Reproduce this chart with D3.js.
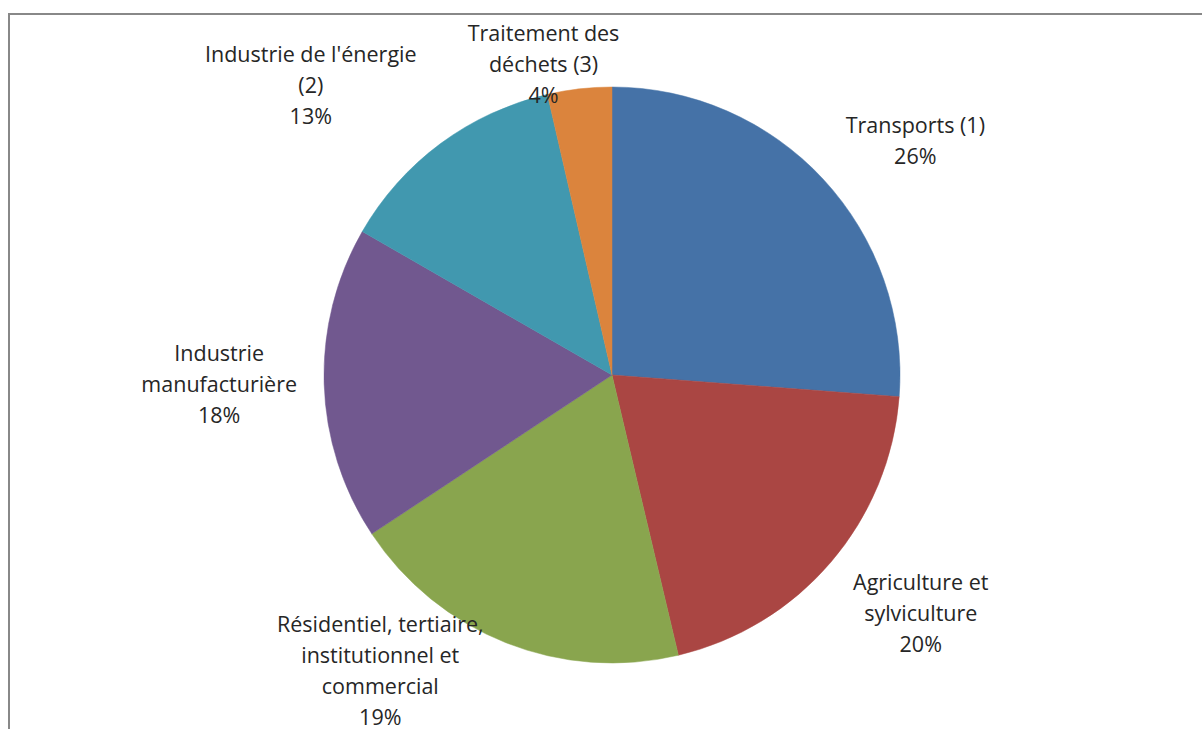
<!DOCTYPE html>
<html>
<head>
<meta charset="utf-8">
<script src="https://cdn.jsdelivr.net/npm/d3@7"></script>
<style>
  body { margin: 0; background: #fff; }
  svg { display: block; }
</style>
</head>
<body>
<svg id="drawing_region"></svg>
<script>
// secteurs, dans l'ordre des aiguilles d'une montre depuis midi
const categories = [
    ["Transports (1)"],
    ["Agriculture et", "sylviculture"],
    ["Résidentiel, tertiaire,", "institutionnel et", "commercial"],
    ["Industrie", "manufacturière"],
    ["Industrie de l'énergie", "(2)"],
    ["Traitement des", "déchets (3)"]
];
const values = [26.2, 20.1, 19.4, 17.6, 13.1, 3.6];
const colors = ["#4572A7", "#AA4643", "#89A54E", "#71588F", "#4198AF", "#DB843D"];

const config = {
    width: 1202,
    height: 729,
    cx: 612,
    cy: 375,
    radius: 288,
    labelRadius: 385,
    lineHeight: 31
};

// petits decalages des etiquettes autour du rayon d'etiquette
const nudges = [[21, 28], [16, -12], [-90, -62], [-8, -3], [-72, 20], [-25, 72]];

const svg = d3.select("#drawing_region")
    .attr("width", config.width)
    .attr("height", config.height);

// cadre du graphique
svg.append("rect")
    .attr("x", 9)
    .attr("y", 14)
    .attr("width", 1250)
    .attr("height", 800)
    .attr("fill", "none")
    .attr("stroke", "#888")
    .attr("stroke-width", 2);

const g = svg.append("g")
    .attr("transform", `translate(${config.cx}, ${config.cy})`);

const pie = d3.pie().sort(null).value(d => d);
const arcs = pie(values);

const arc = d3.arc()
    .innerRadius(0)
    .outerRadius(config.radius);

const labelArc = d3.arc()
    .innerRadius(config.labelRadius)
    .outerRadius(config.labelRadius);

g.selectAll("path")
    .data(arcs)
    .enter()
    .append("path")
    .attr("d", arc)
    .attr("fill", (d, i) => colors[i])
    .attr("stroke", (d, i) => colors[i])
    .attr("stroke-width", 0.5);

const total = d3.sum(values);

const labels = g.selectAll("text.label")
    .data(arcs)
    .enter()
    .append("text")
    .attr("class", "label")
    .attr("text-anchor", "middle")
    .attr("fill", "#262626")
    .style("font-family", "'Open Sans', sans-serif")
    .style("font-size", "21.5px")
    .attr("transform", (d, i) => {
        const c = labelArc.centroid(d);
        return `translate(${c[0] + nudges[i][0]}, ${c[1] + nudges[i][1]})`;
    });

labels.each(function(d, i) {
    const lines = categories[i].concat([Math.round(d.value / total * 100) + "%"]);
    const n = lines.length;
    d3.select(this).selectAll("tspan")
        .data(lines)
        .enter()
        .append("tspan")
        .attr("x", 0)
        .attr("y", (t, k) => (k - (n - 1) / 2) * config.lineHeight)
        .attr("dy", "0.35em")
        .text(t => t);
});
</script>
</body>
</html>
